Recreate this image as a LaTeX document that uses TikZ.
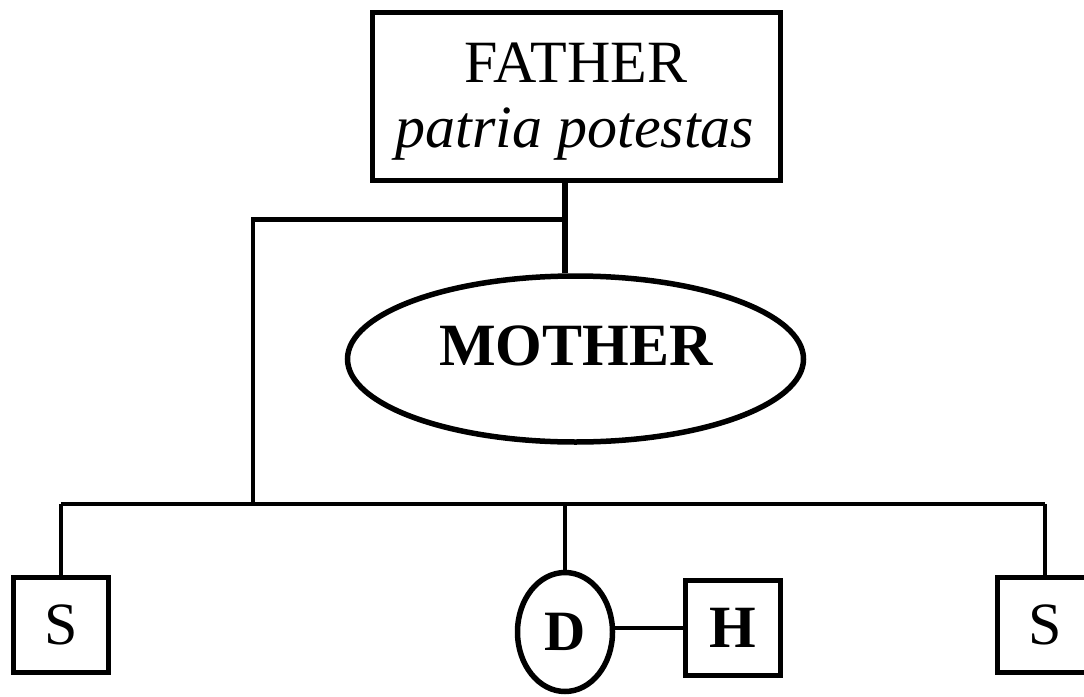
\documentclass[tikz,border=0pt]{standalone}
\usepackage{fontspec}
\setmainfont{Liberation Serif}
\usetikzlibrary{shapes.geometric}

\tikzset{
  personbox/.style={draw, rectangle, line width=5pt, inner sep=0pt,
    minimum width=95pt, minimum height=95pt, font=\fontsize{60}{60}\selectfont},
  headbox/.style={draw, rectangle, line width=5pt, inner sep=0pt},
  wifeoval/.style={draw, ellipse, line width=5.5pt, inner sep=0pt},
  label/.style={inner sep=0pt, anchor=base, font=\fontsize{60}{60}\selectfont},
  link/.style={line width=4.5pt},
  trunkline/.style={line width=6pt},
  marriage/.style={line width=3.5pt},
}

\begin{document}
\begin{tikzpicture}[x=1pt, y=-1pt]
  \useasboundingbox (0,0) rectangle (1084,696);
  \clip (0,0) rectangle (1084,696);
  \fill[white] (0,0) rectangle (1084,696);

  % head of the household
  \node[headbox, minimum width=408pt, minimum height=168pt] (father) at (576.5,96.5) {};
  \node[label] (fathername) at (576,82) {FATHER};
  \node[label] (potestas) at (575,147) {\itshape patria potestas};

  % wife
  \node[wifeoval, minimum width=456pt, minimum height=166pt] (mother) at (575.5,359) {};
  \node[label] (mothername) at (576,365) {\bfseries MOTHER};

  % children
  \node[personbox] (sonL) at (61,625) {S};
  \node[wifeoval, minimum width=95pt, minimum height=119pt,
        font=\fontsize{57}{57}\selectfont\bfseries] (daughter) at (565,632) {D};
  \node[personbox, font=\fontsize{60}{60}\selectfont\bfseries] (husband) at (733,628) {H};
  \node[personbox] (sonR) at (1045,625) {S};

  % junction points
  \coordinate (trunk) at (565,219.5);
  \coordinate (leftcorner) at (253,219.5);
  \coordinate (bar) at (253,504);

  % father to mother
  \draw[trunkline] (trunk |- father.south) -- (trunk |- mother.north);
  % father to the children's line
  \draw[link] (trunk) -- (leftcorner) -- (bar);
  \draw[link] (sonL.north |- bar) -- (sonR.north |- bar);
  \draw[link] (sonL.north |- bar) -- (sonL.north);
  \draw[link] (daughter.north |- bar) -- (daughter.north);
  \draw[link] (sonR.north |- bar) -- (sonR.north);
  % daughter's marriage
  \draw[marriage] (husband.west) -- (husband.west -| daughter.east);
\end{tikzpicture}
\end{document}
